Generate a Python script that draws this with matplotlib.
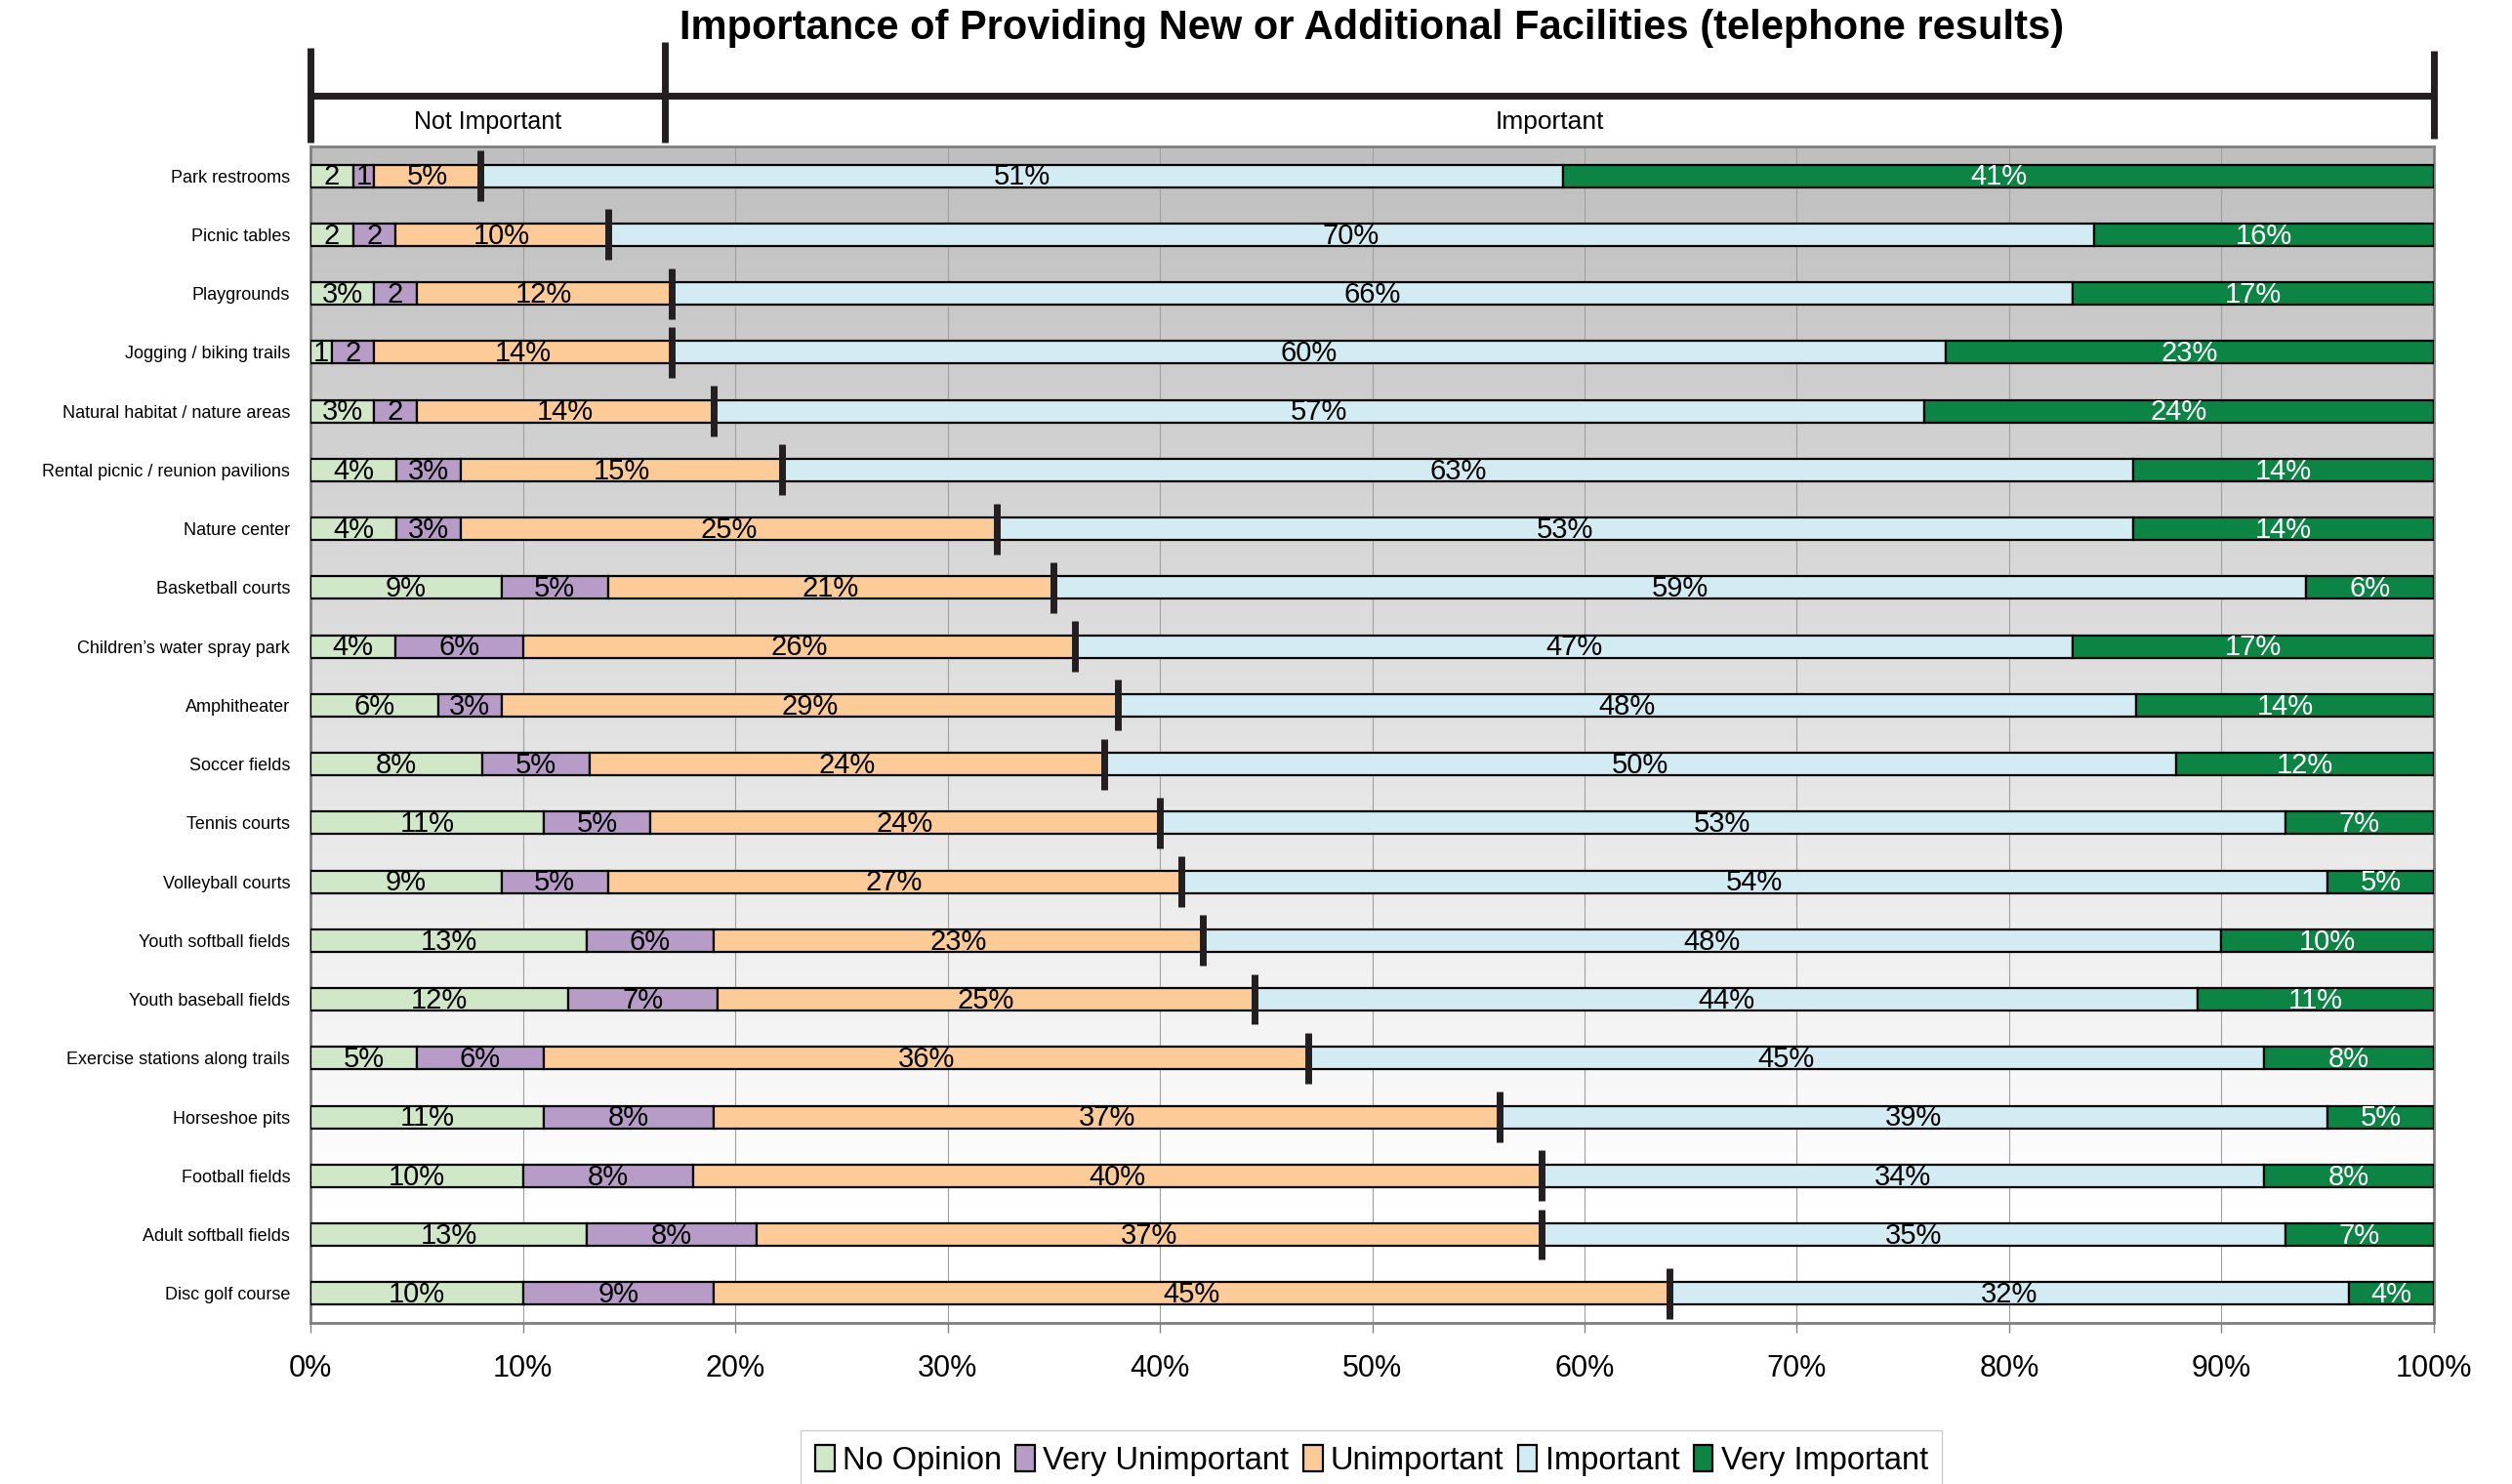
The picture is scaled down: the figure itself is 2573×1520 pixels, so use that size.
import numpy as np
import matplotlib
matplotlib.use("Agg")
import matplotlib.pyplot as plt
from matplotlib import font_manager

plt.rcParams['font.family'] = ['Liberation Sans', 'DejaVu Sans']

# survey data (telephone results), percent of respondents
facilities = ["Park restrooms", "Picnic tables", "Playgrounds", "Jogging / biking trails",
              "Natural habitat / nature areas", "Rental picnic / reunion pavilions", "Nature center",
              "Basketball courts", "Children\u2019s water spray park", "Amphitheater", "Soccer fields",
              "Tennis courts", "Volleyball courts", "Youth softball fields", "Youth baseball fields",
              "Exercise stations along trails", "Horseshoe pits", "Football fields",
              "Adult softball fields", "Disc golf course"]
no_opinion = [2, 2, 3, 1, 3, 4, 4, 9, 4, 6, 8, 11, 9, 13, 12, 5, 11, 10, 13, 10]
very_unimportant = [1, 2, 2, 2, 2, 3, 3, 5, 6, 3, 5, 5, 5, 6, 7, 6, 8, 8, 8, 9]
unimportant = [5, 10, 12, 14, 14, 15, 25, 21, 26, 29, 24, 24, 27, 23, 25, 36, 37, 40, 37, 45]
important = [51, 70, 66, 60, 57, 63, 53, 59, 47, 48, 50, 53, 54, 48, 44, 45, 39, 34, 35, 32]
very_important = [41, 16, 17, 23, 24, 14, 14, 6, 17, 14, 12, 7, 5, 10, 11, 8, 5, 8, 7, 4]

series_names = ["No Opinion", "Very Unimportant", "Unimportant", "Important", "Very Important"]
colors = ["#d1e8c8", "#b89cc8", "#fdcb98", "#d3ecf3", "#0b8444"]
xticks = [0, 10, 20, 30, 40, 50, 60, 70, 80, 90, 100]
bracket_split = 16.7  # where "Not Important" ends on the top bracket

data = np.array([no_opinion, very_unimportant, unimportant, important, very_important], dtype=float)
share = data / data.sum(axis=0) * 100  # 100% stacked

# narrow face for the category names if it is there
names = {f.name for f in font_manager.fontManager.ttflist}
if 'Liberation Sans Narrow' in names:
    cat_font, cat_size = 'Liberation Sans Narrow', 16
else:
    cat_font, cat_size = 'Liberation Sans', 13

fig = plt.figure(figsize=(25.73, 15.2), dpi=100)
ax = fig.add_axes([0.1236, 0.1086, 0.8453, 0.7927])

y = np.arange(len(facilities))
n = len(facilities)

# grey-to-white background
g = np.linspace(0, 1, 300).reshape(-1, 1)
shade = 0.75 + 0.25 * np.clip(g / 0.9, 0, 1)
ax.imshow(np.dstack([shade] * 3), extent=[0, 100, n - 0.5, -0.5], aspect='auto',
          interpolation='bilinear', zorder=0)

left = np.zeros(n)
for i, name in enumerate(series_names):
    ax.barh(y, share[i], left=left, height=0.38, color=colors[i], edgecolor='black',
            linewidth=1.6, label=name, zorder=3)
    for j in range(n):
        v = data[i, j]
        txt = f"{v:.0f}%" if v >= 3 else f"{v:.0f}"
        ax.text(left[j] + share[i, j] / 2, y[j] + 0.02, txt, ha='center', va='center',
                fontsize=21, color='white' if i == 4 else 'black', zorder=5)
    left += share[i]

# not important / important split marker
cut = share[:3].sum(axis=0)
ax.vlines(cut, y - 0.43, y + 0.43, color='#231f20', lw=5, zorder=6)

ax.set_xlim(0, 100)
ax.set_ylim(n - 0.5, -0.5)
ax.set_xticks(xticks)
ax.set_xticklabels([f"{t}%" for t in xticks])
ax.set_yticks(y)
ax.set_yticklabels(facilities, family=[cat_font, 'DejaVu Sans'], fontsize=cat_size)
ax.set_axisbelow(True)
ax.xaxis.grid(True, color='#a0a0a0', lw=0.8, zorder=1)
ax.tick_params(axis='x', length=7, color='#808080', width=1, pad=16, labelsize=22)
ax.tick_params(axis='y', length=0, pad=15)
for s in ax.spines.values():
    s.set_color('#808080')
    s.set_linewidth(2)

# bracket on top
tr = ax.get_xaxis_transform()
bk = dict(color='#231f20', lw=5, clip_on=False, transform=tr, solid_capstyle='butt')
ax.plot([0, 100], [1.043, 1.043], **bk)
ax.plot([0, 0], [1.003, 1.084], **bk)
ax.plot([bracket_split, bracket_split], [1.003, 1.089], **bk)
ax.plot([100, 100], [1.007, 1.081], **bk)
ax.text(bracket_split / 2, 1.021, "Not Important", transform=tr, ha='center', va='center', fontsize=18)
ax.text((bracket_split + 100) / 2, 1.021, "Important", transform=tr, ha='center', va='center', fontsize=19)

fig.text(0.546, 0.981, "Importance of Providing New or Additional Facilities (telephone results)",
         ha='center', va='center', fontsize=30, fontweight='bold')

fig.legend(loc='center', bbox_to_anchor=(0.546, 0.016), ncol=5, fontsize=23.5, frameon=True,
           fancybox=False, edgecolor='#c0c0c0', handlelength=0.6, handleheight=0.9,
           handletextpad=0.25, columnspacing=0.45, borderpad=0.45)

fig.savefig("out.png", dpi=100)
